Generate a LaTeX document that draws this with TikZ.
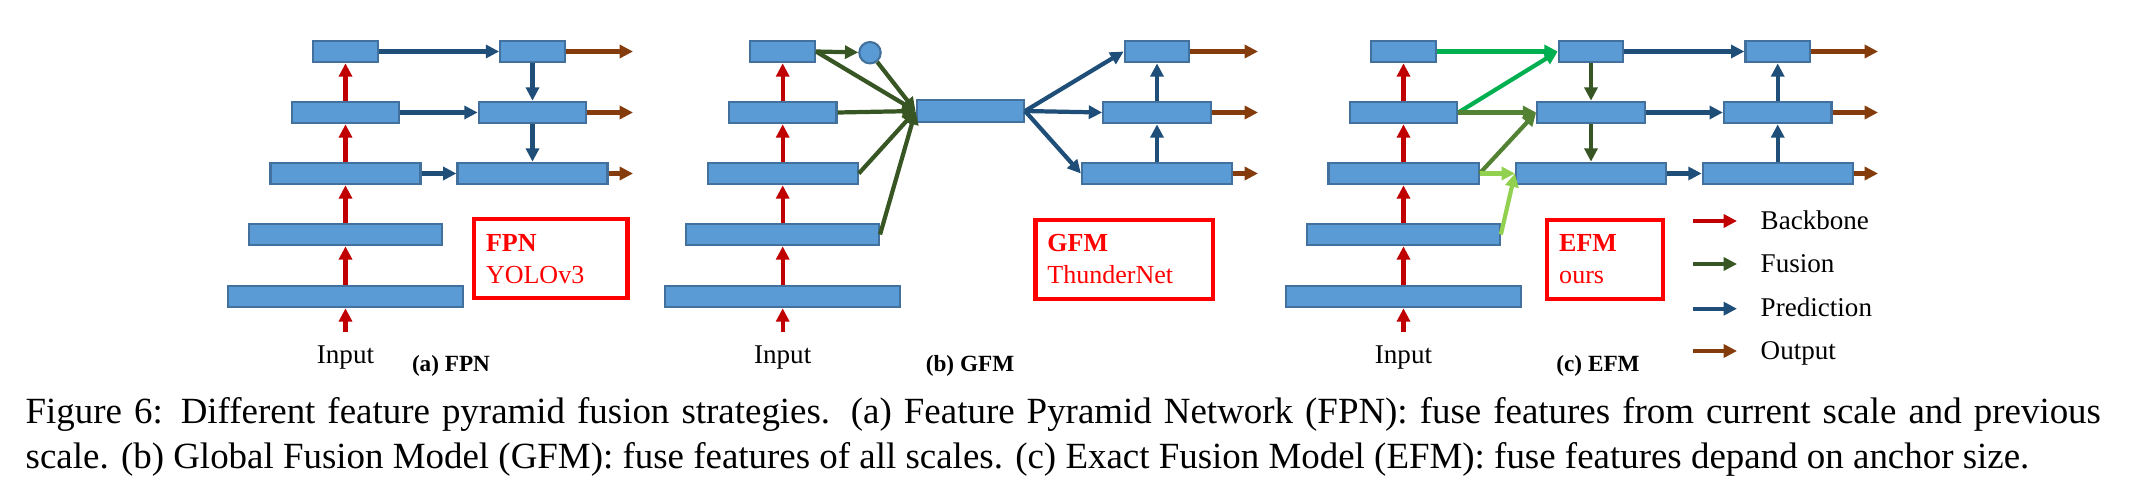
\documentclass[tikz,border=0pt]{standalone}
\usepackage{fontspec}
\setmainfont{Liberation Serif}
\usetikzlibrary{arrows.meta}

\definecolor{boxfill}{HTML}{5B9BD5}
\definecolor{boxline}{HTML}{41719C}
\definecolor{bbred}{HTML}{C00000}
\definecolor{fusegreen}{HTML}{375623}
\definecolor{predblue}{HTML}{1F4E79}
\definecolor{outbrown}{HTML}{843C0C}
\definecolor{brightgreen}{HTML}{00B050}
\definecolor{midgreen}{HTML}{548235}
\definecolor{lightgreen}{HTML}{92D050}

\begin{document}
\begin{tikzpicture}[x=0.01cm, y=-0.01cm,
	feat/.style={draw=boxline, fill=boxfill, line width=0.6pt, inner sep=0pt, minimum height=0.215cm},
	arw/.style={-{Triangle[length=3.8pt,width=3.7pt]}, line width=1.2pt},
	bb/.style={arw, bbred},
	fu/.style={arw, fusegreen},
	pr/.style={arw, predblue},
	outp/.style={arw, outbrown},
	tagbox/.style={draw=red, line width=1.2pt, text=red, align=left, inner xsep=0.12cm, minimum height=0.79cm, font=\fontsize{7.4}{9}\selectfont},
	lbl/.style={font=\fontsize{7.7}{9}\selectfont, inner sep=0pt},
	sublbl/.style={font=\fontsize{6.6}{8}\selectfont\bfseries, inner sep=0pt}]
	\useasboundingbox (0,0) rectangle (2154,500);

	% backbones
	\foreach \p/\cx in {a/345.5, b/782.7, c/1403.5} {
		\foreach \k/\y/\w in {1/51.5/0.645cm, 2/112.5/1.075cm, 3/173.5/1.5cm, 4/234.5/1.925cm, 5/296.5/2.35cm}
			\node[feat, minimum width=\w] (\p\k) at (\cx,\y) {};
		\foreach \i/\j in {5/4, 4/3, 3/2, 2/1}
			\draw[bb] (\p\i) -- (\p\j);
		\coordinate (\p-in) at (\cx,332);
		\draw[bb] (\p-in) -- (\p5);
		\node[lbl, anchor=base] (\p-input) at (\cx,363.3) {Input};
	}

	% heads
	\foreach \k/\y/\w in {1/51.5/0.645cm, 2/112.5/1.075cm, 3/173.5/1.5cm} {
		\node[feat, minimum width=\w] (f\k) at (532.5,\y) {};
		\node[feat, minimum width=\w] (g\k) at (1157,\y) {};
		\node[feat, minimum width=\w] (e\k) at (1591,\y) {};
		\node[feat, minimum width=\w] (q\k) at (1777.7,\y) {};
		\coordinate (fo\k) at (633,\y);
		\coordinate (go\k) at (1258,\y);
		\coordinate (qo\k) at (1878,\y);
		\draw[pr] (a\k) -- (f\k);
		\draw[outp] (f\k) -- (fo\k);
		\draw[outp] (g\k) -- (go\k);
		\draw[pr] (e\k) -- (q\k);
		\draw[outp] (q\k) -- (qo\k);
	}

	% (a) FPN
	\draw[pr] (f1) -- (f2);
	\draw[pr] (f2) -- (f3);

	% (b) GFM
	\node[feat, circle, minimum size=0.214cm] (bdot) at (870,52.7) {};
	\node[feat, minimum width=1.073cm] (gfm) at (970.3,111) {};
	\draw[fu] (b1.east) -- (bdot);
	\draw[fu] (b1.east) -- (gfm.west);
	\draw[fu] (bdot) -- (gfm.west);
	\foreach \k in {2,3,4}
		\draw[fu] (b\k.east) -- (gfm.west);
	\foreach \k in {1,2,3}
		\draw[pr] (gfm.east) -- (g\k.west);
	\draw[pr] (g3) -- (g2);
	\draw[pr] (g2) -- (g1);

	% (c) EFM
	\draw[arw, brightgreen] (c1.east) -- (e1.west);
	\draw[arw, brightgreen] (c2.east) -- (e1.west);
	\draw[arw, midgreen] (c2.east) -- (e2.west);
	\draw[arw, midgreen] (c3.east) -- (e2.west);
	\draw[arw, lightgreen] (c3.east) -- (e3.west);
	\draw[arw, lightgreen] (c4.east) -- (e3.west);
	\draw[fu] (e1) -- (e2);
	\draw[fu] (e2) -- (e3);
	\draw[pr] (q3) -- (q2);
	\draw[pr] (q2) -- (q1);

	% tags
	\node[tagbox, text width=1.293cm] (fpnbox) at (550.7,258.8) {\textbf{FPN}\\YOLOv3};
	\node[tagbox, text width=1.538cm] (gfmbox) at (1124.4,259.2) {\textbf{GFM}\\ThunderNet};
	\node[tagbox, text width=0.915cm] (efmbox) at (1605,259.2) {\textbf{EFM}\\ours};

	\node[sublbl, anchor=base] (fpncap) at (451,371.7) {(a) FPN};
	\node[sublbl, anchor=base] (gfmcap) at (970,371.7) {(b) GFM};
	\node[sublbl, anchor=base] (efmcap) at (1598,371.7) {(c) EFM};

	% legend
	\foreach \n/\y/\st/\txt in {1/221/bb/Backbone, 2/264/fu/Fusion, 3/308.7/pr/Prediction, 4/351/outp/Output} {
		\coordinate (ls\n) at (1693,\y);
		\coordinate (le\n) at (1737,\y);
		\draw[\st] (ls\n) -- (le\n);
		\node[lbl, anchor=base west] (lt\n) at (1760,\y+8) {\txt};
	}

	\node[anchor=base west, inner sep=0pt, text width=20.74cm, align=justify, font=\fontsize{10.5}{12.8}\selectfont] (caption) at (25,423.3)
		{Figure 6: Different feature pyramid fusion strategies. (a) Feature Pyramid Network (FPN): fuse features from current scale and previous\linebreak scale. (b) Global Fusion Model (GFM): fuse features of all scales. (c) Exact Fusion Model (EFM): fuse features depand on anchor size.};
\end{tikzpicture}
\end{document}
